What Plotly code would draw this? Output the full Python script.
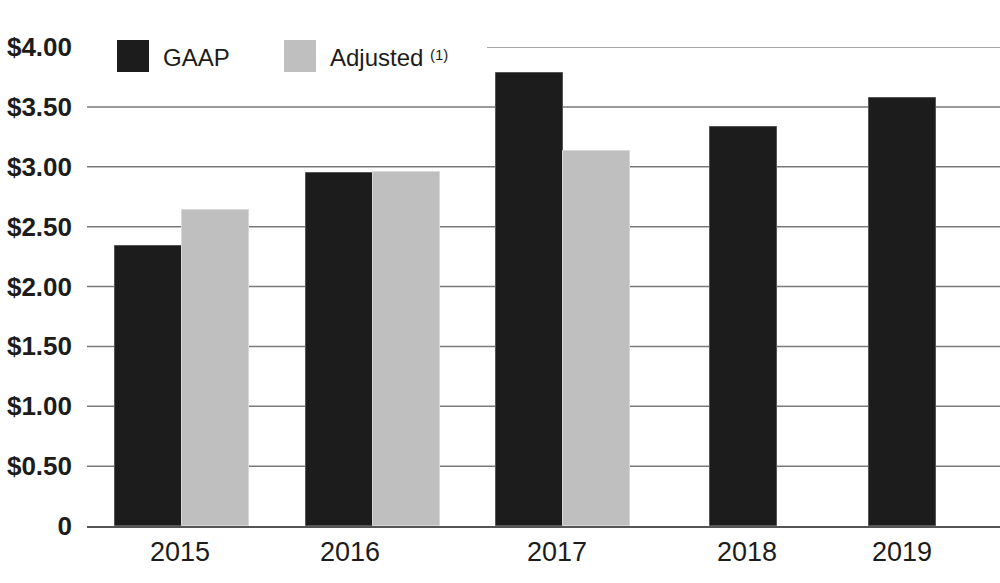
import plotly.graph_objects as go

# ---- data ----
years = ["2015", "2016", "2017", "2018", "2019"]
gaap = [2.34, 2.95, 3.78, 3.33, 3.57]
adjusted = [2.64, 2.96, 3.13, None, None]
y_ticks = [0, 0.5, 1.0, 1.5, 2.0, 2.5, 3.0, 3.5, 4.0]
y_tick_labels = ["0", "$0.50", "$1.00", "$1.50", "$2.00", "$2.50", "$3.00", "$3.50", "$4.00"]

# ---- layout constants (x axis measured in plot-area pixels) ----
W, H = 1000, 583
ML, MR, MT, MB = 87, 0, 47, 57
PW = W - ML - MR
group_centers = [95, 286, 476, 656, 815]
label_centers = [93, 263, 470, 660, 815]
bar_w = 67
gaap_offsets = [-bar_w if a is not None else -bar_w / 2 for a in adjusted]

BLACK = "#1c1c1c"
GREY = "#bfbfbf"
FONT = "Liberation Sans, Arial, sans-serif"

fig = go.Figure()
fig.add_trace(go.Bar(
    x=group_centers, y=gaap, width=[bar_w] * len(gaap), offset=gaap_offsets,
    marker=dict(color=BLACK, line=dict(color="#555555", width=1)),
    name="GAAP", showlegend=False, hoverinfo="y",
))
adj_x = [c for c, a in zip(group_centers, adjusted) if a is not None]
adj_y = [a for a in adjusted if a is not None]
fig.add_trace(go.Bar(
    x=adj_x, y=adj_y, width=[bar_w] * len(adj_y), offset=[0] * len(adj_y),
    marker=dict(color=GREY, line=dict(color="#d8d8d8", width=1)),
    name="Adjusted", showlegend=False, hoverinfo="y",
))

shapes = []
for v in y_ticks[1:]:
    top = v == y_ticks[-1]
    shapes.append(dict(
        type="line", xref="x", yref="y",
        x0=400 if top else 0, x1=PW, y0=v, y1=v,
        line=dict(color="#a8a8a8" if top else "#7a7a7a", width=2 if top else 1.5),
        layer="below",
    ))

def py(p):  # pixel y -> paper y
    return (H - MB - p) / (H - MT - MB)

# manual legend
for x0, col in [(30, BLACK), (197, GREY)]:
    shapes.append(dict(type="rect", xref="x", yref="paper", x0=x0, x1=x0 + 32,
                       y0=py(72), y1=py(40), fillcolor=col, line=dict(width=0)))
annotations = [
    dict(xref="x", yref="paper", x=74, y=py(57), text="GAAP", showarrow=False,
         xanchor="left", yanchor="middle", font=dict(family=FONT, size=24, color="#1c1c1c")),
    dict(xref="x", yref="paper", x=241, y=py(57), text="Adjusted", showarrow=False,
         xanchor="left", yanchor="middle", font=dict(family=FONT, size=24, color="#1c1c1c")),
    dict(xref="x", yref="paper", x=341, y=py(55), text="(1)", showarrow=False,
         xanchor="left", yanchor="middle", font=dict(family=FONT, size=15, color="#1c1c1c")),
]

fig.update_layout(
    width=W, height=H,
    margin=dict(l=ML, r=MR, t=MT, b=MB),
    paper_bgcolor="white", plot_bgcolor="white",
    shapes=shapes, annotations=annotations,
    bargap=0,
    xaxis=dict(range=[0, PW], tickvals=label_centers, ticktext=years,
               showgrid=False, zeroline=False, showline=True, linecolor="#555555", linewidth=2,
               ticks="", ticklabelstandoff=1,
               tickfont=dict(family=FONT, size=27, color="#1c1c1c"), fixedrange=True),
    yaxis=dict(range=[0, 4.0], tickvals=y_ticks, ticktext=y_tick_labels,
               showgrid=False, zeroline=False, showline=False,
               ticks="", ticklabelstandoff=14,
               tickfont=dict(family=FONT, size=26, color="#1c1c1c", weight="bold"),
               fixedrange=True),
)

fig.write_html("out.html", config={"displayModeBar": False},
               post_script="document.body.style.margin='0';")
